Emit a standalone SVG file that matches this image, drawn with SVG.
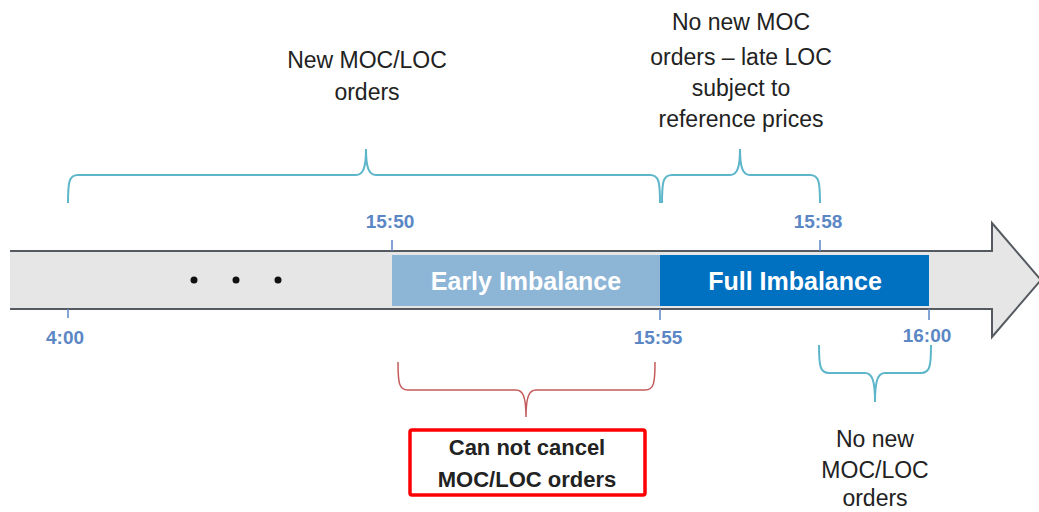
<svg xmlns="http://www.w3.org/2000/svg" width="1039" height="512" viewBox="0 0 1039 512">
  <style>
    .txt { font-family: "Liberation Sans", Arial, sans-serif; font-size: 23px; fill: #222; text-anchor: middle; }
    .bold { font-weight: bold; }
    .time { font-family: "Liberation Sans", Arial, sans-serif; font-size: 19px; font-weight: bold; fill: #5B87C5; text-anchor: middle; }
    .bar { font-family: "Liberation Sans", Arial, sans-serif; font-size: 25px; font-weight: bold; fill: #ffffff; text-anchor: middle; }
    .tick { stroke: #5B87C5; stroke-width: 1.5; }
    .brace { fill: none; stroke: #5DB6CA; stroke-width: 2; }
    .brace-red { fill: none; stroke: #C35B5B; stroke-width: 1.5; }
  </style>

  <rect width="1039" height="512" fill="#ffffff"/>

  <!-- timeline arrow -->
  <g id="timeline">
    <polygon points="10,251 992,251 992,223 1041,280 992,337 992,309 10,309" fill="#E6E6E6"/>
    <path d="M10,251 L992,251 L992,223 L1041,280 L992,337 L992,309 L10,309" fill="none" stroke="#555a60" stroke-width="2"/>
    <circle cx="194" cy="280" r="3.5" fill="#111"/>
    <circle cx="236" cy="280" r="3.5" fill="#111"/>
    <circle cx="278" cy="280" r="3.5" fill="#111"/>
  </g>

  <g id="early-imbalance">
    <rect x="392" y="255" width="268" height="51" fill="#8DB5D6"/>
    <text class="bar" x="526" y="290">Early Imbalance</text>
  </g>

  <g id="full-imbalance">
    <rect x="660" y="255" width="269" height="51" fill="#0070C0"/>
    <text class="bar" x="795" y="290">Full Imbalance</text>
  </g>

  <!-- time marks -->
  <g id="times">
    <line class="tick" x1="392" y1="240" x2="392" y2="251"/>
    <text class="time" x="390" y="228">15:50</text>
    <line class="tick" x1="820" y1="240" x2="820" y2="251"/>
    <text class="time" x="818" y="228">15:58</text>
    <line class="tick" x1="68" y1="309" x2="68" y2="318"/>
    <text class="time" x="65" y="344">4:00</text>
    <line class="tick" x1="660" y1="309" x2="660" y2="320"/>
    <text class="time" x="658" y="344">15:55</text>
    <line class="tick" x1="929" y1="309" x2="929" y2="320"/>
    <text class="time" x="927" y="342">16:00</text>
  </g>

  <!-- braces -->
  <g id="connectors">
    <path class="brace" d="M68,203 C68,182 69,175 78,175 L356,175 C363,175 366,168 366,149 C366,168 369,175 376,175 L650,175 C659,175 660,182 660,203"/>
    <path class="brace" d="M662,203 C662,182 663,175 672,175 L730,175 C737,175 740,168 740,149 C740,168 743,175 750,175 L810,175 C819,175 820,182 820,203"/>
    <path class="brace-red" d="M398,362 C398,383 399,390 408,390 L516,390 C523,390 526,397 526,417 C526,397 529,390 536,390 L645,390 C654,390 655,383 655,362"/>
    <path class="brace" d="M819,345 C819,366 820,373 829,373 L865,373 C872,373 875,380 875,402 C875,380 878,373 885,373 L921,373 C930,373 931,366 931,345"/>
  </g>

  <g id="new-orders">
    <text class="txt" x="367" y="68">New MOC/LOC</text>
    <text class="txt" x="367" y="100">orders</text>
  </g>

  <g id="no-new-moc">
    <text class="txt" x="741" y="30">No new MOC</text>
    <text class="txt" x="741" y="65">orders – late LOC</text>
    <text class="txt" x="741" y="96">subject to</text>
    <text class="txt" x="741" y="127">reference prices</text>
  </g>

  <g id="cannot-cancel">
    <rect x="410" y="430" width="235" height="65" rx="2" fill="#ffffff" stroke="#FF0000" stroke-width="3.5"/>
    <text class="txt bold" x="527" y="455" style="font-size:22px">Can not cancel</text>
    <text class="txt bold" x="527" y="487" style="font-size:22px">MOC/LOC orders</text>
  </g>

  <g id="no-new-orders">
    <text class="txt" x="875" y="447">No new</text>
    <text class="txt" x="875" y="478">MOC/LOC</text>
    <text class="txt" x="875" y="506">orders</text>
  </g>
</svg>
